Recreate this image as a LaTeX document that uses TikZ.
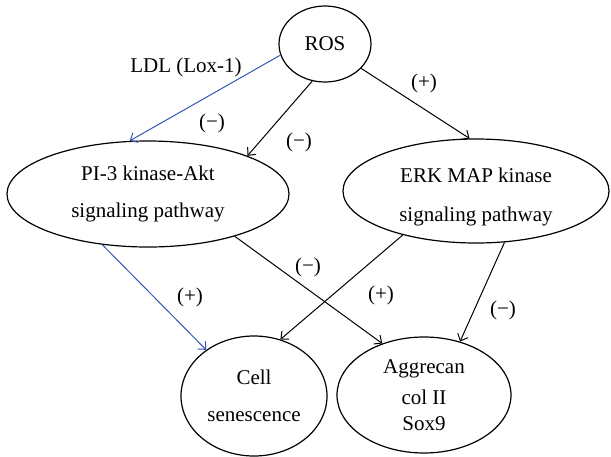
\documentclass[tikz,border=0pt]{standalone}
\usepackage{fontspec}
\setmainfont{Liberation Serif}
\usetikzlibrary{arrows.meta,%
	shapes.geometric}
\definecolor{ldlblue}{RGB}{52,86,180}

\begin{document}
\begin{tikzpicture}[x=0.5pt,y=-0.5pt,
	font=\fontsize{10.5}{12}\selectfont,
	state/.style={draw, ellipse, line width=0.6pt, inner sep=0pt, align=center},
	sign/.style={inner sep=0pt},
	link/.style={-{Straight Barb[length=3pt,width=5.5pt]}, line width=0.5pt},
	ldllink/.style={link, draw=ldlblue}]
			\useasboundingbox (0,0) rectangle (611,456);
			\node[state, minimum width=46pt, minimum height=38pt] (ros) at (325,44) {ROS};
			\node[state, minimum width=141pt, minimum height=53pt] (pi3) at (148,194) {PI-3 kinase-Akt\\[6.5pt]signaling pathway};
			\node[state, minimum width=133pt, minimum height=52pt] (erk) at (476,191) {\strut\\[-7pt]ERK MAP kinase\\[7.5pt]signaling pathway};
			\node[state, minimum width=73pt, minimum height=60pt] (cell) at (254,396) {Cell\\[6.5pt]senescence};
			\node[state, minimum width=87pt, minimum height=58pt] (agg) at (424,395) {Aggrecan\\[3.5pt]col II\\[1pt]Sox9};
			% signs
			\node[sign] (ldl) at (186,67) {LDL (Lox-1)};
			\node[sign] (m1) at (212,123) {(−)};
			\node[sign] (m2) at (299,142) {(−)};
			\node[sign] (p1) at (424,83) {(+)};
			\node[sign] (m3) at (308,267) {(−)};
			\node[sign] (p2) at (190,297) {(+)};
			\node[sign] (p3) at (381,295) {(+)};
			\node[sign] (m4) at (503,310) {(−)};
			% links
			\draw[ldllink] (ros.194.6) -- (pi3.109.7);
			\draw[link] (ros.251) -- (pi3.21.9);
			\draw[link] (ros.-34.4) -- (erk.97.3);
			\draw[ldllink] (pi3.228.6) -- (cell.136);
			\draw[link] (pi3.-26.6) -- (agg.129.5);
			\draw[link] (erk.211) -- (cell.65.2);
			\draw[link] (erk.-61.4) -- (agg.56.6);
\end{tikzpicture}
\end{document}
